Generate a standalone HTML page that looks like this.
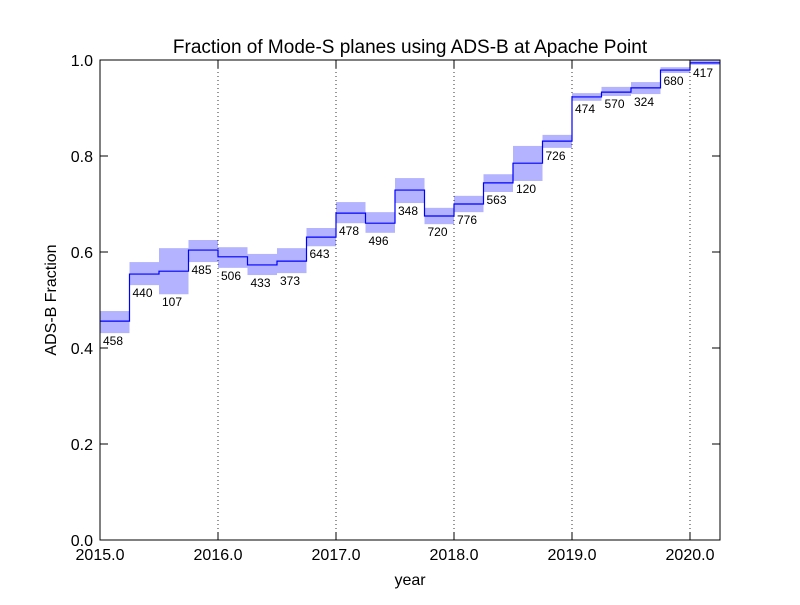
<!DOCTYPE html>
<html><head><meta charset="utf-8"><style>
body{margin:0;background:#fff;}
svg text{font-family:"Liberation Sans","DejaVu Sans",sans-serif;}
</style></head><body>
<svg id="chart" width="800" height="600" viewBox="0 0 800 600" xmlns="http://www.w3.org/2000/svg">
<rect width="800" height="600" fill="#fff"/>
<g id="bands"></g>
<g id="grid"></g>
<g id="line"></g>
<g id="labels"></g>
<rect x="100" y="60" width="620" height="480" fill="none" stroke="#000" stroke-width="1"/>
<g id="ticks"></g>
<text x="410" y="53" font-size="19" text-anchor="middle">Fraction of Mode-S planes using ADS-B at Apache Point</text>
<text x="410" y="585" font-size="16" text-anchor="middle">year</text>
<text x="56" y="300" font-size="16" text-anchor="middle" transform="rotate(-90 56 300)">ADS-B Fraction</text>
</svg>
<script>
const binStarts = [2015.0,2015.25,2015.5,2015.75,2016.0,2016.25,2016.5,2016.75,2017.0,2017.25,2017.5,2017.75,2018.0,2018.25,2018.5,2018.75,2019.0,2019.25,2019.5,2019.75,2020.0];
const fractions = [0.456,0.554,0.560,0.604,0.590,0.573,0.581,0.631,0.681,0.660,0.729,0.675,0.700,0.744,0.785,0.831,0.923,0.933,0.942,0.979,0.994];
const upper = [0.477,0.579,0.608,0.625,0.610,0.596,0.608,0.650,0.704,0.683,0.754,0.692,0.717,0.762,0.821,0.844,0.931,0.944,0.954,0.985,1.0];
const lower = [0.431,0.531,0.512,0.579,0.567,0.552,0.556,0.612,0.660,0.640,0.702,0.658,0.683,0.725,0.748,0.817,0.915,0.925,0.929,0.973,0.990];
const counts = ["458","440","107","485","506","433","373","643","478","496","348","720","776","563","120","726","474","570","324","680","417"];
const xTicks = [2015,2016,2017,2018,2019,2020];
const yTicks = [0,0.2,0.4,0.6,0.8,1.0];
const binWidth = 0.25;
const NS="http://www.w3.org/2000/svg";
const X=v=>100+(v-2015)*118;
const Y=v=>540-v*480;
function mk(tag,attrs,parent){const e=document.createElementNS(NS,tag);for(const k in attrs)e.setAttribute(k,attrs[k]);document.getElementById(parent).appendChild(e);return e;}
binStarts.forEach((b,i)=>{
  const r=mk('rect',{x:X(b),y:Y(upper[i]),width:X(b+binWidth)-X(b),height:Y(lower[i])-Y(upper[i]),fill:'#b3b3ff'},'bands');
  
  
  const t=mk('text',{x:X(b)+3,y:Y(lower[i])+12,'font-size':12},'labels');
  t.textContent=counts[i];
  
  
});
let d='';
binStarts.forEach((b,i)=>{d+=(i?'L':'M')+X(b)+' '+Y(fractions[i])+' L'+X(b+binWidth)+' '+Y(fractions[i])+' ';});
const p=mk('path',{d:d,fill:'none',stroke:'#0000ff','stroke-width':1.2},'line');


xTicks.forEach(v=>{
  if(v>2015){const g=mk('line',{x1:X(v),x2:X(v),y1:60,y2:540,stroke:'#000','stroke-dasharray':'1,3','stroke-width':0.8},'grid');
  
  }
  mk('line',{x1:X(v),x2:X(v),y1:540,y2:532,stroke:'#000'},'ticks');
  mk('line',{x1:X(v),x2:X(v),y1:60,y2:68,stroke:'#000'},'ticks');
  const t=mk('text',{x:X(v),y:560,'font-size':16,'text-anchor':'middle'},'ticks');
  t.textContent=v.toFixed(1);
  
  
});
yTicks.forEach(v=>{
  mk('line',{x1:100,x2:108,y1:Y(v),y2:Y(v),stroke:'#000'},'ticks');
  mk('line',{x1:712,x2:720,y1:Y(v),y2:Y(v),stroke:'#000'},'ticks');
  const t=mk('text',{x:93,y:Y(v)+6,'font-size':16,'text-anchor':'end'},'ticks');
  t.textContent=v.toFixed(1);
  
  
});
</script>
</body></html>
